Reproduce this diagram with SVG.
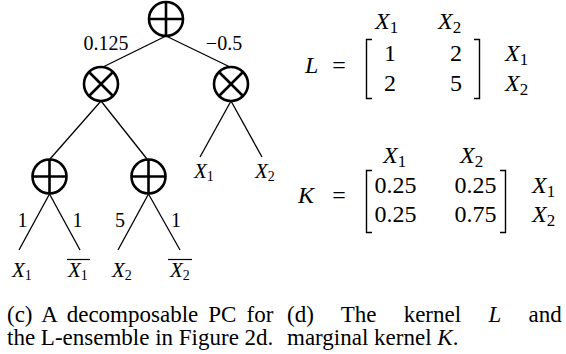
<svg xmlns="http://www.w3.org/2000/svg" width="566" height="354" viewBox="0 0 566 354">
<style>
.node{fill:#fff;stroke:#000;stroke-width:2.6}
.sym{stroke:#000;stroke-width:2.6;fill:none}
.edge{stroke:#000;stroke-width:1.3;fill:none}
.br{stroke:#000;stroke-width:1.4;fill:none}
.bar{stroke:#000;stroke-width:1.2}
.lbl{font-family:"Liberation Serif",serif;font-size:20px;fill:#000}
.v{font-family:"Liberation Serif",serif;font-size:21px;font-style:italic;fill:#000}
.sub{font-style:normal;font-size:14px}
.m{font-family:"Liberation Serif",serif;font-size:24px;fill:#000}
.mi{font-style:italic}
.msub{font-style:normal;font-size:17px}
.cap{font-family:"Liberation Serif",serif;font-size:23px;fill:#000}
</style>
<g id="connectors">
<line class="edge" x1="166" y1="36" x2="103" y2="67"/>
<line class="edge" x1="166" y1="36" x2="230" y2="67"/>
<line class="edge" x1="101" y1="101" x2="50" y2="159"/>
<line class="edge" x1="101" y1="101" x2="147" y2="159"/>
<line class="edge" x1="231" y1="101" x2="200" y2="157"/>
<line class="edge" x1="231" y1="101" x2="262" y2="157"/>
<line class="edge" x1="49.5" y1="194" x2="19" y2="250"/>
<line class="edge" x1="49.5" y1="194" x2="80" y2="250"/>
<line class="edge" x1="148.5" y1="194" x2="118" y2="250"/>
<line class="edge" x1="148.5" y1="194" x2="180" y2="250"/>
</g>
<g id="edge-labels">
<text class="lbl" x="106" y="50" text-anchor="middle">0.125</text>
<text class="lbl" x="224" y="50" text-anchor="middle">−0.5</text>
<text class="lbl" x="22.5" y="227" text-anchor="middle">1</text>
<text class="lbl" x="77.5" y="227" text-anchor="middle">1</text>
<text class="lbl" x="120" y="227" text-anchor="middle">5</text>
<text class="lbl" x="176" y="227" text-anchor="middle">1</text>
</g>
<g id="root-sum">
<circle class="node" cx="166" cy="19" r="17"/>
<path class="sym" d="M149 19H183M166 2V36"/>
</g>
<g id="prod-left">
<circle class="node" cx="101" cy="84" r="17"/>
<path class="sym" d="M89 72L113 96M113 72L89 96"/>
</g>
<g id="prod-right">
<circle class="node" cx="231" cy="84" r="17"/>
<path class="sym" d="M219 72L243 96M243 72L219 96"/>
</g>
<g id="sum-left">
<circle class="node" cx="49.5" cy="176.5" r="17"/>
<path class="sym" d="M32.5 176.5H66.5M49.5 159.5V193.5"/>
</g>
<g id="sum-right">
<circle class="node" cx="148.5" cy="176.5" r="17"/>
<path class="sym" d="M131.5 176.5H165.5M148.5 159.5V193.5"/>
</g>
<g id="leaf-x1-top"><text class="v" x="194" y="178">X<tspan class="sub" dy="3">1</tspan></text></g>
<g id="leaf-x2-top"><text class="v" x="255" y="178">X<tspan class="sub" dy="3">2</tspan></text></g>
<g id="leaf-x1"><text class="v" x="12" y="277">X<tspan class="sub" dy="3">1</tspan></text></g>
<g id="leaf-nx1"><line class="bar" x1="67" y1="259.5" x2="90" y2="259.5"/><text class="v" x="68" y="277">X<tspan class="sub" dy="3">1</tspan></text></g>
<g id="leaf-x2"><text class="v" x="112" y="277">X<tspan class="sub" dy="3">2</tspan></text></g>
<g id="leaf-nx2"><line class="bar" x1="168" y1="259.5" x2="192" y2="259.5"/><text class="v" x="170" y="277">X<tspan class="sub" dy="3">2</tspan></text></g>
<g id="matrix-L">
<text class="m mi" x="375" y="29">X<tspan class="msub" dy="4">1</tspan></text>
<text class="m mi" x="438" y="29">X<tspan class="msub" dy="4">2</tspan></text>
<text class="m mi" x="305" y="73">L</text>
<text class="m" x="339" y="73" text-anchor="middle">=</text>
<path class="br" d="M372 39.5H366.5V98.5H372M474 39.5H479.5V98.5H474"/>
<text class="m" x="390" y="61" text-anchor="middle">1</text>
<text class="m" x="456" y="61" text-anchor="middle">2</text>
<text class="m" x="390" y="91" text-anchor="middle">2</text>
<text class="m" x="456" y="91" text-anchor="middle">5</text>
<text class="m mi" x="505" y="61">X<tspan class="msub" dy="4">1</tspan></text>
<text class="m mi" x="505" y="91">X<tspan class="msub" dy="4">2</tspan></text>
</g>
<g id="matrix-K">
<text class="m mi" x="383" y="163">X<tspan class="msub" dy="4">1</tspan></text>
<text class="m mi" x="460" y="163">X<tspan class="msub" dy="4">2</tspan></text>
<text class="m mi" x="298" y="203">K</text>
<text class="m" x="339" y="203" text-anchor="middle">=</text>
<path class="br" d="M372 170.5H366.5V232.5H372M500 170.5H505.5V232.5H500"/>
<text class="m" x="395.5" y="193" text-anchor="middle">0.25</text>
<text class="m" x="475.5" y="193" text-anchor="middle">0.25</text>
<text class="m" x="395.5" y="222" text-anchor="middle">0.25</text>
<text class="m" x="475.5" y="222" text-anchor="middle">0.75</text>
<text class="m mi" x="532" y="193">X<tspan class="msub" dy="4">1</tspan></text>
<text class="m mi" x="532" y="222">X<tspan class="msub" dy="4">2</tspan></text>
</g>
<g id="captions">
<text class="cap" x="7" y="322" word-spacing="4.3">(c) A decomposable PC for</text>
<text class="cap" x="7" y="345">the L-ensemble in Figure 2d.</text>
<text class="cap" x="287" y="322" word-spacing="21.5">(d) The kernel <tspan font-style="italic">L</tspan> and</text>
<text class="cap" x="287" y="345">marginal kernel <tspan font-style="italic">K</tspan>.</text>
</g>
</svg>
